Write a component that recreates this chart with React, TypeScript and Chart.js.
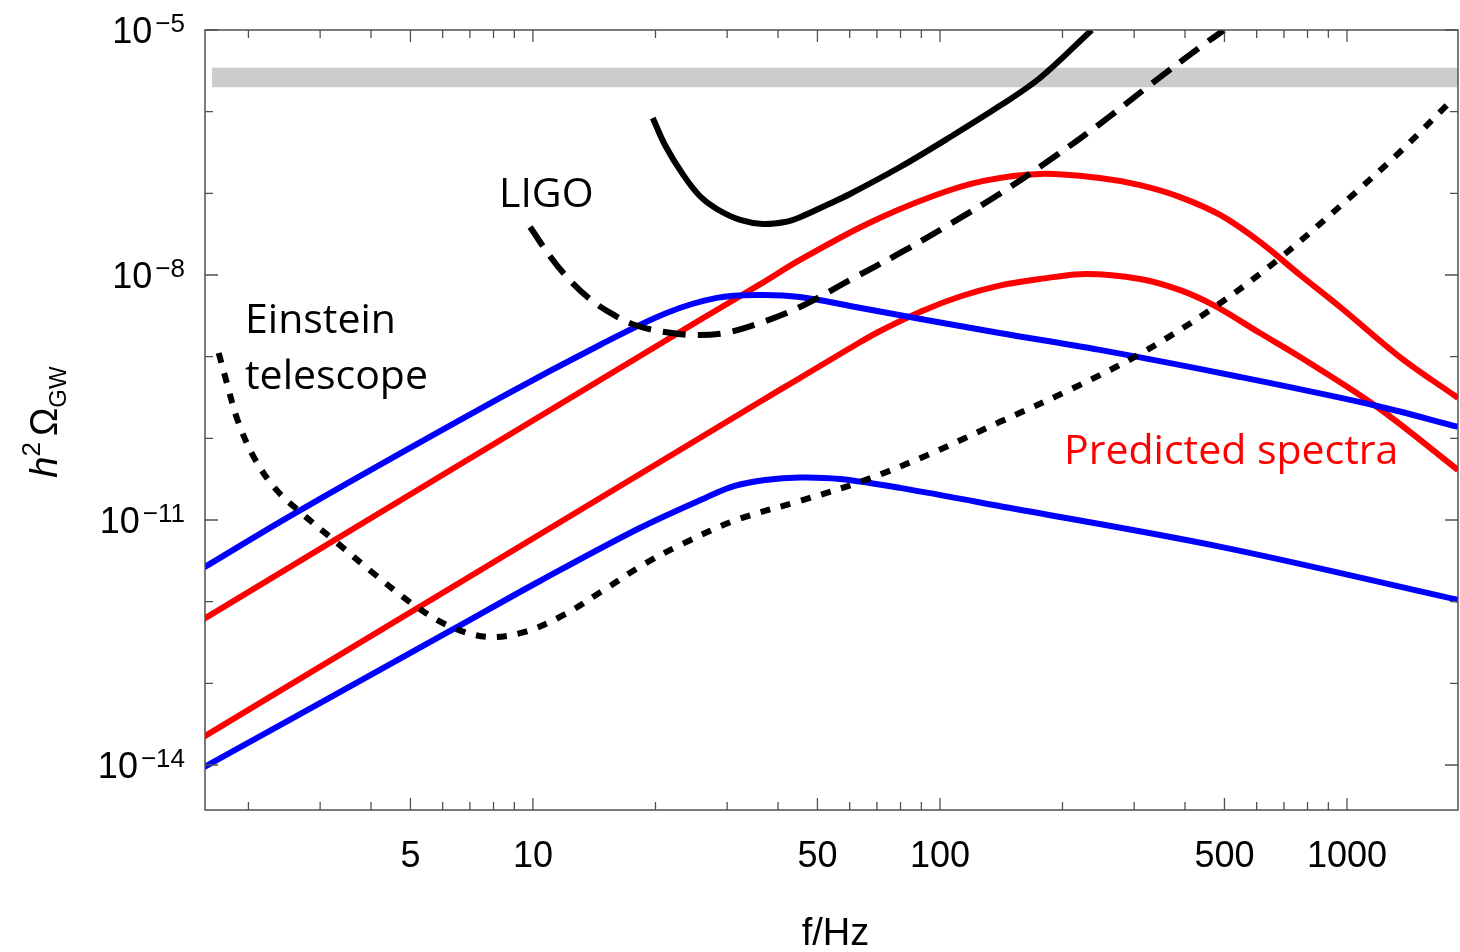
import React, { useEffect, useRef } from "react";
import { Chart, registerables } from "chart.js";

Chart.register(...registerables);

// ---- axis ranges ----
const X_MIN = 1.564;
const X_MAX = 1874;
const Y_MIN = 2.81e-15;
const Y_MAX = 1e-5;

// ---- tick definitions ----
const xTickValues = [2, 3, 4, 5, 6, 7, 8, 9, 10, 20, 30, 40, 50, 60, 70, 80, 90, 100, 200, 300, 400, 500, 600, 700, 800, 900, 1000];
const xLabelValues = [5, 10, 50, 100, 500, 1000];
const xTickLabels = ["5", "10", "50", "100", "500", "1000"];
const yTickExponents = [-14, -13, -12, -11, -10, -9, -8, -7, -6, -5];
const yLabelExponents = [-14, -11, -8, -5];

// ---- grey band ----
const bandFreq = [1.627, 1874];
const bandLow = [1.99e-6, 1.99e-6];
const bandHigh = [3.45e-6, 3.45e-6];

// ---- LIGO (solid) ----
const ligoSolidFreq = [19.7, 21.1, 23.4, 25.7, 28.3, 32.3, 36.7, 41.6, 45.3, 52.1, 60.1, 79.8, 106, 140, 176, 236];
const ligoSolidOmega = [8.38e-7, 3.91e-7, 1.68e-7, 9.27e-8, 6.43e-8, 4.72e-8, 4.22e-8, 4.46e-8, 5.1e-8, 7.0e-8, 9.82e-8, 2.1e-7, 4.9e-7, 1.17e-6, 2.58e-6, 1.0e-5];

// ---- LIGO (dashed) ----
const ligoDashFreq = [9.84, 11.0, 12.3, 13.8, 15.5, 17.8, 21.1, 25.0, 29.6, 36.1, 45.3, 60.1, 79.8, 106, 140, 186, 247, 328, 436, 499];
const ligoDashOmega = [3.87e-8, 1.71e-8, 8.69e-9, 5.08e-9, 3.43e-9, 2.44e-9, 2.0e-9, 1.84e-9, 1.95e-9, 2.58e-9, 4.06e-9, 8.69e-9, 1.86e-8, 4.22e-8, 9.82e-8, 2.56e-7, 7.06e-7, 2.12e-6, 6.19e-6, 1.0e-5];

// ---- Einstein telescope (dotted) ----
const etFreq = [1.69, 1.77, 1.88, 2.06, 2.32, 2.68, 3.24, 4.02, 5.1, 6.22, 7.71, 9.55, 11.9, 14.8, 18.6, 23.0, 31.6, 45.3, 64.7, 94.4, 140, 208, 310, 469, 684, 1000, 1349, 1762];
const etOmega = [1.11e-9, 4.76e-10, 1.68e-10, 5.92e-11, 2.47e-11, 1.25e-11, 5.69e-12, 2.31e-12, 9.1e-13, 5.04e-13, 3.7e-13, 4.26e-13, 6.87e-13, 1.35e-12, 2.81e-12, 4.94e-12, 1.0e-11, 1.71e-11, 3.01e-11, 6.43e-11, 1.58e-10, 3.91e-10, 1.08e-9, 3.94e-9, 1.61e-8, 8.28e-8, 3.21e-7, 1.21e-6];

// ---- predicted spectra: blue ----
const blueHighFreq = [1.55, 2.63, 8.3, 14.6, 21.3, 28.3, 36.1, 45.3, 60.1, 92.5, 140, 247, 546, 1186, 1874];
const blueHighOmega = [2.6e-12, 1.25e-11, 3.12e-10, 1.39e-9, 3.43e-9, 5.24e-9, 5.69e-9, 5.38e-9, 4.18e-9, 2.81e-9, 1.95e-9, 1.21e-9, 5.64e-10, 2.49e-10, 1.38e-10];

const blueLowFreq = [1.55, 6.32, 10.4, 18.3, 26.8, 31.3, 37.2, 45.3, 56.8, 79.8, 149, 490, 1874];
const blueLowOmega = [9.3e-15, 4.5e-13, 1.79e-12, 7.98e-12, 1.91e-11, 2.61e-11, 3.09e-11, 3.32e-11, 3.18e-11, 2.47e-11, 1.4e-11, 4.68e-12, 1.05e-12];

// ---- predicted spectra: red ----
const redHighFreq = [1.55, 25.7, 36.1, 45.3, 66.2, 96.2, 128, 176, 247, 310, 389, 488, 611, 767, 962, 1349, 1874];
const redHighOmega = [6.1e-13, 2.81e-9, 7.66e-9, 1.53e-8, 4.22e-8, 9.27e-8, 1.42e-7, 1.73e-7, 1.54e-7, 1.26e-7, 9.0e-8, 5.43e-8, 2.54e-8, 1.0e-8, 4.06e-9, 9.9e-10, 3.12e-10];

const redLowFreq = [1.55, 35.7, 45.3, 61.8, 71.3, 90.4, 112, 140, 176, 229, 310, 389, 469, 611, 767, 1186, 1874];
const redLowOmega = [2.2e-14, 2.71e-10, 5.48e-10, 1.38e-9, 2.06e-9, 3.62e-9, 5.45e-9, 7.41e-9, 8.93e-9, 1.03e-8, 8.93e-9, 6.54e-9, 4.3e-9, 1.95e-9, 9.9e-10, 2.42e-10, 4.09e-11];

const pts = (fs: number[], vs: number[]) => fs.map((f, i) => ({ x: f, y: vs[i] }));

const TICK_FONT = '36px "Liberation Sans", Arial, sans-serif';
const SUP_FONT = '26px "Liberation Sans", Arial, sans-serif';
const NOTE_FONT = '41px "Open Sans", sans-serif';

const framePlugin = {
  id: "frameAndLabels",
  afterDatasetsDraw(chart: any) {
    const { ctx, chartArea } = chart;
    const { left, right, top, bottom } = chartArea;
    const xs = chart.scales.x;
    const ys = chart.scales.y;
    ctx.save();

    // frame
    ctx.strokeStyle = "#505050";
    ctx.lineWidth = 1.5;
    ctx.strokeRect(left, top, right - left, bottom - top);

    // ticks
    ctx.lineWidth = 1.3;
    ctx.beginPath();
    for (const v of xTickValues) {
      const px = xs.getPixelForValue(v);
      if (px < left || px > right) continue;
      const len = xLabelValues.includes(v) ? 12 : 8;
      ctx.moveTo(px, bottom);
      ctx.lineTo(px, bottom - len);
      ctx.moveTo(px, top);
      ctx.lineTo(px, top + len);
    }
    for (const e of yTickExponents) {
      const py = ys.getPixelForValue(Math.pow(10, e));
      const len = yLabelExponents.includes(e) ? 13 : 8;
      ctx.moveTo(left, py);
      ctx.lineTo(left + len, py);
      ctx.moveTo(right, py);
      ctx.lineTo(right - len, py);
    }
    ctx.stroke();

    // x tick labels
    ctx.fillStyle = "#000";
    ctx.font = TICK_FONT;
    ctx.textAlign = "center";
    ctx.textBaseline = "alphabetic";
    xLabelValues.forEach((v, i) => {
      ctx.fillText(xTickLabels[i], xs.getPixelForValue(v), bottom + 57);
    });

    // y tick labels 10^e
    ctx.textAlign = "left";
    for (const e of yLabelExponents) {
      const py = ys.getPixelForValue(Math.pow(10, e));
      const sup = "\u2212" + String(-e);
      ctx.font = SUP_FONT;
      const sw = ctx.measureText(sup).width;
      ctx.font = TICK_FONT;
      const bw = ctx.measureText("10").width;
      const xr = left - 20;
      const x0 = xr - sw - bw - 3;
      ctx.fillText("10", x0, py + 13);
      ctx.font = SUP_FONT;
      ctx.fillText(sup, x0 + bw + 3, py + 2);
    }

    // x title
    ctx.textAlign = "center";
    ctx.font = '38px "Liberation Sans", Arial, sans-serif';
    ctx.fillText("f/Hz", (left + right) / 2 + 4, bottom + 135);

    // y title (rotated)
    ctx.save();
    ctx.translate(57, 422);
    ctx.rotate(-Math.PI / 2);
    ctx.textAlign = "left";
    const pieces = [
      { t: "h", f: 'italic 38px "Liberation Sans", Arial, sans-serif', dy: 0, gap: 0 },
      { t: "2", f: '26px "Liberation Sans", Arial, sans-serif', dy: -17, gap: 6 },
      { t: "\u03A9", f: '38px "Liberation Sans", Arial, sans-serif', dy: 0, gap: 0 },
      { t: "GW", f: '24px "Liberation Sans", Arial, sans-serif', dy: 9, gap: 0 },
    ];
    let total = 0;
    for (const p of pieces) {
      ctx.font = p.f;
      total += ctx.measureText(p.t).width + p.gap;
    }
    let cx = -total / 2;
    for (const p of pieces) {
      ctx.font = p.f;
      ctx.fillText(p.t, cx, p.dy);
      cx += ctx.measureText(p.t).width + p.gap;
    }
    ctx.restore();

    // annotations
    ctx.textAlign = "left";
    ctx.font = NOTE_FONT;
    ctx.fillStyle = "#000";
    ctx.fillText("LIGO", 499, 207);
    ctx.fillText("Einstein", 245, 333);
    ctx.fillText("telescope", 245, 389);
    ctx.fillStyle = "#ff0000";
    ctx.fillText("Predicted spectra", 1064, 464);

    ctx.restore();
  },
};

export default function App() {
  const canvasRef = useRef<HTMLCanvasElement | null>(null);

  useEffect(() => {
    const canvas = canvasRef.current;
    if (!canvas) return;
    const line = (data: any, color: string, order: number, dash: number[] = []) => ({
      data,
      borderColor: color,
      borderWidth: 6,
      borderDash: dash,
      borderCapStyle: "butt",
      borderJoinStyle: "round",
      tension: 0.35,
      pointRadius: 0,
      fill: false,
      order,
    });
    const chart = new Chart(canvas, {
      type: "line",
      data: {
        datasets: [
          { data: pts(bandFreq, bandLow), borderWidth: 0, pointRadius: 0, fill: false, order: 10 },
          { data: pts(bandFreq, bandHigh), borderWidth: 0, pointRadius: 0, fill: "-1", backgroundColor: "#cccccc", order: 9 },
          line(pts(redHighFreq, redHighOmega), "#ff0000", 3),
          line(pts(redLowFreq, redLowOmega), "#ff0000", 3),
          line(pts(blueHighFreq, blueHighOmega), "#0000ff", 2),
          line(pts(blueLowFreq, blueLowOmega), "#0000ff", 2),
          line(pts(etFreq, etOmega), "#000000", 1, [10, 11]),
          line(pts(ligoDashFreq, ligoDashOmega), "#000000", 0, [23, 12]),
          line(pts(ligoSolidFreq, ligoSolidOmega), "#000000", 0),
        ] as any,
      },
      options: {
        animation: false,
        responsive: false,
        devicePixelRatio: 1,
        events: [],
        layout: { padding: { left: 205, top: 30, right: 2, bottom: 142 } },
        plugins: { legend: { display: false }, tooltip: { enabled: false } },
        scales: {
          x: { type: "logarithmic", min: X_MIN, max: X_MAX, display: false },
          y: { type: "logarithmic", min: Y_MIN, max: Y_MAX, display: false },
        },
      } as any,
      plugins: [framePlugin],
    });
    return () => chart.destroy();
  }, []);

  return (
    <div style={{ position: "fixed", left: 0, top: 0, width: 1460, height: 952, background: "#fff" }}>
      <canvas ref={canvasRef} width={1460} height={952} style={{ display: "block" }} />
    </div>
  );
}
